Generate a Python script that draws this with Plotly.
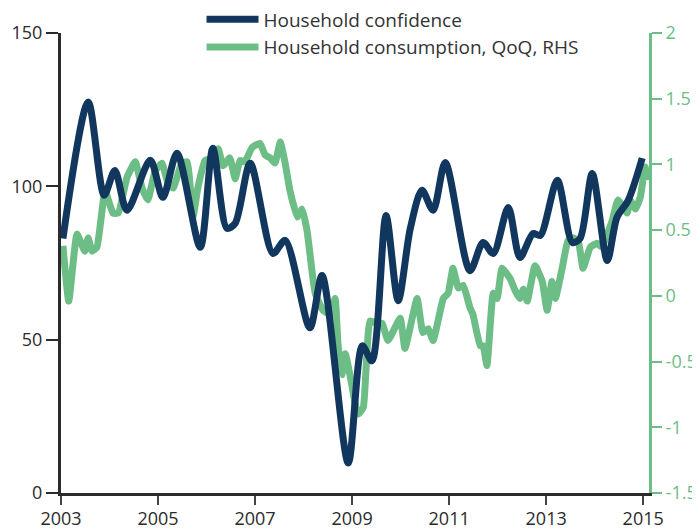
import plotly.graph_objects as go

# ---------------- data ----------------
conf_year = [2003.04, 2003.56, 2003.89, 2004.11, 2004.36, 2004.84, 2005.10, 2005.39, 2005.87,
             2006.13, 2006.42, 2006.59, 2006.90, 2007.37, 2007.62, 2008.13, 2008.38, 2008.92,
             2009.21, 2009.41, 2009.70, 2009.95, 2010.20, 2010.44, 2010.67, 2010.92, 2011.43,
             2011.70, 2011.91, 2012.22, 2012.46, 2012.73, 2012.88, 2013.23, 2013.54, 2013.70,
             2013.95, 2014.26, 2014.46, 2014.69, 2014.98]
conf_value = [83.0, 127.5, 97.1, 105.2, 92.2, 108.5, 96.4, 110.8, 80.1,
              112.4, 86.3, 87.9, 107.5, 78.1, 82.4, 53.9, 70.9, 9.8,
              48.0, 43.1, 90.5, 62.7, 86.3, 98.7, 92.2, 107.8, 72.5,
              81.7, 78.1, 93.1, 76.8, 84.6, 84.0, 102.0, 81.7, 83.0,
              104.2, 75.8, 89.9, 95.4, 109.2]

cons_year = [2003.04, 2003.16, 2003.33, 2003.49, 2003.56, 2003.64, 2003.74, 2003.91, 2004.07,
             2004.18, 2004.36, 2004.53, 2004.67, 2004.79, 2004.94, 2005.08, 2005.21, 2005.31,
             2005.49, 2005.60, 2005.72, 2005.82, 2005.97, 2006.13, 2006.24, 2006.34, 2006.48,
             2006.59, 2006.69, 2006.79, 2006.94, 2007.10, 2007.21, 2007.31, 2007.41, 2007.52,
             2007.62, 2007.72, 2007.87, 2007.97, 2008.07, 2008.18, 2008.24, 2008.40, 2008.55,
             2008.65, 2008.71, 2008.79, 2008.86, 2008.96, 2009.12, 2009.23, 2009.37, 2009.52,
             2009.62, 2009.74, 2009.99, 2010.09, 2010.34, 2010.46, 2010.57, 2010.67, 2010.88,
             2010.98, 2011.08, 2011.19, 2011.29, 2011.43, 2011.49, 2011.64, 2011.70, 2011.78,
             2011.91, 2011.99, 2012.09, 2012.26, 2012.36, 2012.46, 2012.53, 2012.61, 2012.77,
             2012.92, 2013.02, 2013.12, 2013.19, 2013.33, 2013.45, 2013.56, 2013.66, 2013.76,
             2013.91, 2014.05, 2014.15, 2014.26, 2014.36, 2014.48, 2014.67, 2014.73, 2014.84,
             2014.94, 2015.04, 2015.08]
cons_value = [0.38, -0.04, 0.47, 0.34, 0.44, 0.34, 0.37, 0.80, 0.63,
              0.63, 0.90, 1.02, 0.82, 0.73, 0.95, 1.01, 0.85, 0.82,
              1.01, 1.02, 0.60, 0.82, 1.03, 1.05, 1.12, 0.99, 1.05,
              0.89, 1.03, 1.02, 1.13, 1.16, 1.07, 1.05, 1.01, 1.17,
              1.01, 0.80, 0.60, 0.66, 0.50, 0.17, 0.02, -0.11, -0.14,
              -0.02, -0.37, -0.60, -0.44, -0.61, -0.90, -0.85, -0.19, -0.21,
              -0.21, -0.34, -0.17, -0.40, -0.02, -0.28, -0.25, -0.34, -0.02,
              0.02, 0.21, 0.06, 0.08, -0.09, -0.14, -0.38, -0.38, -0.53,
              0.02, -0.02, 0.21, 0.13, 0.04, -0.02, 0.05, -0.04, 0.23,
              0.11, -0.11, 0.11, -0.02, 0.21, 0.42, 0.44, 0.42, 0.21,
              0.37, 0.40, 0.37, 0.47, 0.57, 0.73, 0.63, 0.73, 0.66,
              0.75, 0.98, 0.88]

x_tick_vals = [2003, 2005, 2007, 2009, 2011, 2013, 2015]
x_tick_text = ["2003", "2005", "2007", "2009", "2011", "2013", "2015"]
left_tick_vals = [0, 50, 100, 150]
left_tick_text = ["0", "50", "100", "150"]
right_tick_vals = [-1.5, -1, -0.5, 0, 0.5, 1, 1.5, 2]
right_tick_text = ["-1.5", "-1", "-0.5", "0", "0.5", "1", "1.5", "2"]

NAVY = "#12375f"
GREEN = "#6dbd86"
DARK = "#2b2b2b"
FONT = "Open Sans"

fig = go.Figure()
fig.add_trace(go.Scatter(
    x=conf_year, y=conf_value, name="Household confidence", yaxis="y2",
    mode="lines", line=dict(color=NAVY, width=7, shape="spline", smoothing=0.8),
    legendgroup="a"))
fig.add_trace(go.Scatter(
    x=cons_year, y=cons_value, name="Household consumption, QoQ, RHS", yaxis="y",
    mode="lines", line=dict(color=GREEN, width=7, shape="spline", smoothing=0.4),
    legendgroup="b"))

# the page body adds an 8px offset, so the figure is 692x521
fig.update_layout(
    width=692, height=521,
    margin=dict(l=53, r=51, t=25, b=36, autoexpand=False),
    paper_bgcolor="white", plot_bgcolor="white",
    font=dict(family=FONT, size=17, color="#333333"),
    showlegend=True,
    legend=dict(x=0.239, xanchor="left", y=1.071, yanchor="top",
                bgcolor="rgba(0,0,0,0)", font=dict(size=19, color="#333333"),
                tracegroupgap=4, itemwidth=52, traceorder="normal"),
    xaxis=dict(range=[2003, 2015.12], tickvals=x_tick_vals, ticktext=x_tick_text,
               showgrid=False, zeroline=False, showline=True, linecolor=DARK, linewidth=3,
               ticks="outside", ticklen=9, tickwidth=2, tickcolor="#444444",
               ticklabelstandoff=-2,
               tickfont=dict(size=18, color=DARK)),
    yaxis=dict(range=[-1.5, 2], side="right", tickvals=right_tick_vals, ticktext=right_tick_text,
               showgrid=False, zeroline=False, showline=True, linecolor=GREEN, linewidth=3,
               ticks="outside", ticklen=10, tickwidth=2, tickcolor=GREEN,
               tickfont=dict(size=18, color=GREEN)),
    yaxis2=dict(range=[0, 150], side="left", overlaying="y", anchor="x",
                tickvals=left_tick_vals, ticktext=left_tick_text,
                showgrid=False, zeroline=False, showline=True, linecolor=DARK, linewidth=3,
                ticks="outside", ticklen=12, tickwidth=2, tickcolor=DARK,
                tickfont=dict(size=18, color=DARK)),
)

fig.write_html("out.html")
